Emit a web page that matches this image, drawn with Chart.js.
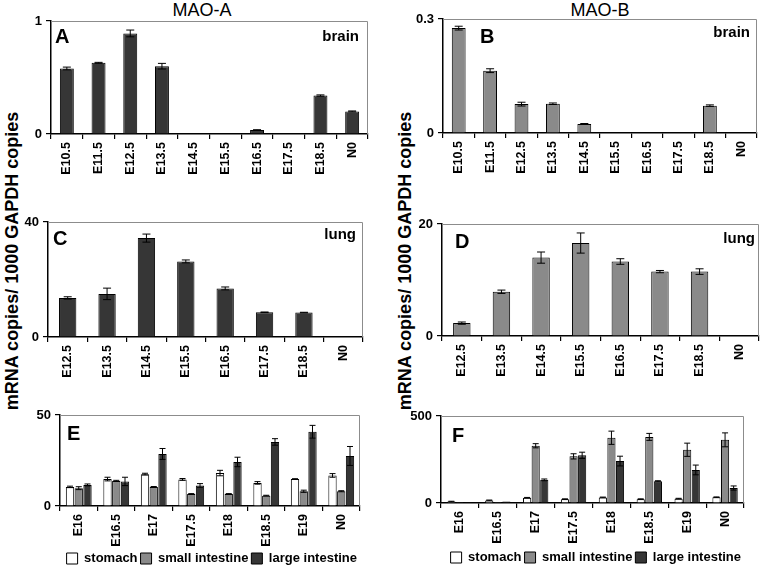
<!DOCTYPE html>
<html><head><meta charset="utf-8">
<script src="https://cdn.jsdelivr.net/npm/chart.js@4/dist/chart.umd.min.js"></script>
<style>
body{margin:0;background:#fff;}
#wrap{position:relative;width:761px;height:567px;overflow:hidden;font-family:"Liberation Sans",Arial,sans-serif;}
canvas{position:absolute;}
.title{position:absolute;top:0;width:120px;text-align:center;font-size:18px;line-height:20px;color:#000;}
.ylab{position:absolute;width:360px;height:22px;line-height:22px;text-align:center;font-size:18px;font-weight:bold;color:#000;transform:rotate(-90deg);white-space:nowrap;}
</style></head>
<body><div id="wrap">
<div class="title" style="left:142px;">MAO-A</div>
<div class="title" style="left:540px;">MAO-B</div>
<div class="ylab" style="left:-168px;top:250px;">mRNA copies/ 1000 GAPDH copies</div>
<div class="ylab" style="left:225px;top:250px;">mRNA copies/ 1000 GAPDH copies</div>
<canvas id="cA" width="360" height="190" style="left:20px;top:0px;width:360px;height:190px"></canvas>
<canvas id="cB" width="361" height="190" style="left:400px;top:0px;width:361px;height:190px"></canvas>
<canvas id="cC" width="360" height="190" style="left:20px;top:190px;width:360px;height:190px"></canvas>
<canvas id="cD" width="361" height="190" style="left:400px;top:190px;width:361px;height:190px"></canvas>
<canvas id="cE" width="360" height="195" style="left:20px;top:380px;width:360px;height:195px"></canvas>
<canvas id="cF" width="361" height="194" style="left:400px;top:380px;width:361px;height:194px"></canvas>
</div>
<script>
// ---------- data ----------
const stagesBrain = ['E10.5','E11.5','E12.5','E13.5','E14.5','E15.5','E16.5','E17.5','E18.5','N0'];
const maoABrain    = [0.58, 0.63, 0.89, 0.60, 0, 0, 0.035, 0, 0.34, 0.20];
const maoABrainErr = [0.012, 0.004, 0.03, 0.025, 0, 0, 0.003, 0, 0.006, 0.004];
const maoBBrain    = [0.276, 0.164, 0.076, 0.077, 0.024, 0, 0, 0, 0.072, 0];
const maoBBrainErr = [0.005, 0.005, 0.005, 0.002, 0.001, 0, 0, 0, 0.002, 0];

const stagesLung = ['E12.5','E13.5','E14.5','E15.5','E16.5','E17.5','E18.5','N0'];
const maoALung    = [13.6, 15.0, 34.4, 26.3, 16.9, 8.6, 8.5, 0];
const maoALungErr = [0.4, 2.0, 1.4, 0.5, 0.5, 0.1, 0.1, 0];
const maoBLung    = [2.3, 7.9, 14.0, 16.6, 13.3, 11.5, 11.5, 0];
const maoBLungErr = [0.2, 0.3, 1.0, 1.8, 0.5, 0.2, 0.5, 0];

const stagesGut = ['E16','E16.5','E17','E17.5','E18','E18.5','E19','N0'];
const gutSeries = ['stomach','small intestine','large intestine'];
const maoAStomach      = [10.5, 14.8, 17.5, 14.6, 18.1, 12.7, 14.8, 16.8];
const maoAStomachErr   = [0.4, 1.0, 0.5, 0.5, 1.5, 0.7, 0.2, 1.0];
const maoASmall        = [9.8, 13.8, 10.5, 6.6, 6.6, 5.7, 8.1, 8.1];
const maoASmallErr     = [0.8, 0.3, 0.2, 0.2, 0.2, 0.2, 0.6, 0.3];
const maoALarge        = [11.6, 13.5, 28.6, 11.3, 24.2, 35.2, 40.8, 27.5];
const maoALargeErr     = [0.5, 2.3, 3.0, 1.0, 2.6, 1.8, 3.5, 5.2];
const maoBStomach      = [8, 15, 30, 22, 32, 22, 25, 33];
const maoBStomachErr   = [2, 2, 2, 2, 2, 2, 2, 2];
const maoBSmall        = [5, 6, 329, 268, 375, 380, 306, 363];
const maoBSmallErr     = [0, 0, 12, 15, 38, 20, 38, 40];
const maoBLarge        = [5, 8, 133, 274, 241, 125, 190, 86];
const maoBLargeErr     = [0, 0, 5, 18, 28, 3, 28, 12];

const yMax = {A:1, B:0.3, C:40, D:20, E:50, F:500};

// ---------- styling ----------
const FONT = '"Liberation Sans", Arial, sans-serif';
const DARK = '#363636', GRAY = '#8a8a8a', WHITE = '#ffffff';

const errPlugin = {
  id:'errbars',
  afterDatasetsDraw(chart, args, o){
    const ctx = chart.ctx, y = chart.scales.y;
    const w = o.cap || 4;
    chart.data.datasets.forEach((ds,i)=>{
      if(!ds.errors) return;
      const meta = chart.getDatasetMeta(i);
      meta.data.forEach((bar,j)=>{
        const e = ds.errors[j]; if(!e) return;
        const v = ds.data[j];
        const yt = y.getPixelForValue(v+e), yb = y.getPixelForValue(Math.max(0,v-e));
        ctx.save(); ctx.strokeStyle='#000'; ctx.lineWidth=1;
        ctx.beginPath();
        ctx.moveTo(bar.x,yt); ctx.lineTo(bar.x,yb);
        ctx.moveTo(bar.x-w,yt); ctx.lineTo(bar.x+w,yt);
        ctx.moveTo(bar.x-w,yb); ctx.lineTo(bar.x+w,yb);
        ctx.stroke(); ctx.restore();
      });
    });
  }
};

const framePlugin = {
  id:'frame',
  beforeDatasetsDraw(chart){
    const {ctx, chartArea:a} = chart;
    ctx.save(); ctx.strokeStyle='#8c8c8c'; ctx.lineWidth=1;
    ctx.beginPath();
    ctx.moveTo(a.left, a.top+0.5); ctx.lineTo(a.right-0.5, a.top+0.5); ctx.lineTo(a.right-0.5, a.bottom);
    ctx.stroke(); ctx.restore();
  }
};

const textPlugin = {
  id:'paneltext',
  afterDraw(chart, args, o){
    const {ctx, chartArea:a} = chart;
    ctx.save(); ctx.fillStyle='#000';
    ctx.font = 'bold 20px '+FONT; ctx.textAlign='left'; ctx.textBaseline='alphabetic';
    ctx.fillText(o.letter, a.left+o.lx, a.top+o.ly);
    if(o.tissue){
      ctx.font = 'bold 15px '+FONT; ctx.textAlign='right';
      ctx.fillText(o.tissue, a.right-o.tx, a.top+o.ty);
    }
    ctx.restore();
  }
};

function panel(id, labels, datasets, c){
  return new Chart(document.getElementById(id), {
    type:'bar',
    data:{labels, datasets},
    options:{
      responsive:false, animation:false, events:[],
      layout:{padding:{top:c.top, right:c.right, left:0, bottom:0}},
      datasets:{bar:{categoryPercentage:c.cat, barPercentage:c.bar}},
      plugins:{
        tooltip:{enabled:false},
        legend:c.legend ? {
          display:true, position:'bottom', align:'end',
          labels:{boxWidth:11, boxHeight:11, color:'#000', padding:3,
            font:{family:FONT, size:13, weight:'bold'}}
        } : {display:false},
        paneltext:c.text,
        errbars:{cap:c.cap}
      },
      scales:{
        x:{
          grid:{display:true, drawOnChartArea:false, drawTicks:true, tickLength:5, color:'#000', lineWidth:1.2},
          border:{color:'#000', width:1.5},
          ticks:{minRotation:90, maxRotation:90, autoSkip:false, color:'#000', padding:3,
            font:{family:FONT, size:12.5, weight:'bold'}},
          afterFit:s=>{s.height=c.xh;}
        },
        y:{
          min:0, max:c.max,
          afterBuildTicks:s=>{s.ticks=[{value:0},{value:c.max}];},
          ticks:{color:'#000', padding:4, font:{family:FONT, size:13, weight:'bold'},
            callback:v=> v===0 ? '0' : String(c.max)},
          grid:{drawOnChartArea:false, drawTicks:true, tickLength:5, color:'#000', lineWidth:1.2},
          border:{color:'#000', width:1.5},
          afterFit:s=>{s.width=c.yw;}
        }
      }
    },
    plugins:[framePlugin, errPlugin, textPlugin]
  });
}

function single(data, errs, color){
  return [{data, errors:errs, backgroundColor:color, borderColor:'#000', borderWidth:1}];
}
function gut(st, stE, sm, smE, lg, lgE){
  return [
    {label:gutSeries[0], data:st, errors:stE, backgroundColor:WHITE, borderColor:'#000', borderWidth:1},
    {label:gutSeries[1], data:sm, errors:smE, backgroundColor:GRAY, borderColor:'#000', borderWidth:1},
    {label:gutSeries[2], data:lg, errors:lgE, backgroundColor:DARK, borderColor:'#000', borderWidth:1}
  ];
}

panel('cA', stagesBrain, single(maoABrain, maoABrainErr, DARK),
  {max:yMax.A, top:21, right:12, yw:31, xh:56, cat:1, bar:0.44, cap:4,
   text:{letter:'A', lx:4, ly:22, tissue:'brain', tx:9, ty:20}});
panel('cB', stagesBrain, single(maoBBrain, maoBBrainErr, GRAY),
  {max:yMax.B, top:19, right:4, yw:43, xh:57, cat:1, bar:0.44, cap:4,
   text:{letter:'B', lx:37, ly:24, tissue:'brain', tx:7, ty:18}});
panel('cC', stagesLung, single(maoALung, maoALungErr, DARK),
  {max:yMax.C, top:32, right:17, yw:28, xh:43, cat:1, bar:0.44, cap:4,
   text:{letter:'C', lx:5, ly:23, tissue:'lung', tx:7, ty:17}});
panel('cD', stagesLung, single(maoBLung, maoBLungErr, GRAY),
  {max:yMax.D, top:34, right:2, yw:42, xh:44, cat:1, bar:0.44, cap:4,
   text:{letter:'D', lx:13, ly:24, tissue:'lung', tx:4, ty:19}});
panel('cE', stagesGut, gut(maoAStomach, maoAStomachErr, maoASmall, maoASmallErr, maoALarge, maoALargeErr),
  {max:yMax.E, top:35, right:20, yw:40, xh:43, cat:0.7, bar:0.95, legend:true, cap:3,
   text:{letter:'E', lx:7, ly:25}});
panel('cF', stagesGut, gut(maoBStomach, maoBStomachErr, maoBSmall, maoBSmallErr, maoBLarge, maoBLargeErr),
  {max:yMax.F, top:36, right:17, yw:41, xh:45, cat:0.68, bar:0.95, legend:true, cap:3,
   text:{letter:'F', lx:11, ly:26}});
</script>
</body></html>
